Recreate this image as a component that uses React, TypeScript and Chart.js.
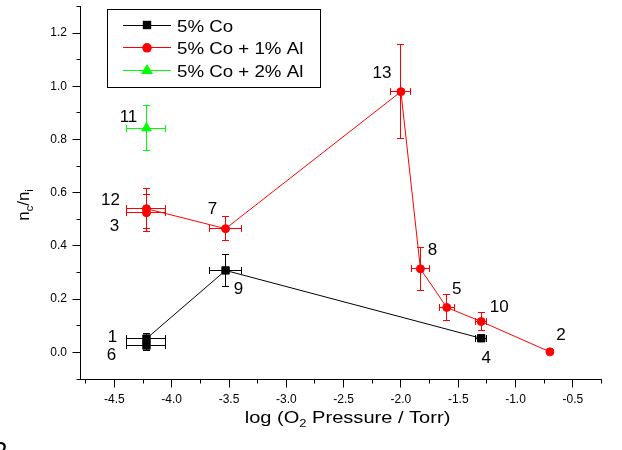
import React, { useEffect, useRef } from 'react';
import { Chart, registerables } from 'chart.js';

Chart.register(...registerables);

// ---- data ----
const seriesNames = ['5% Co', '5% Co + 1% Al', '5% Co + 2% Al'];

const coX = [-4.22, -4.22, -3.53, -1.3];
const coY = [0.026, 0.052, 0.308, 0.053];
const coXErr = [0.17, 0.17, 0.14, 0.05];
const coYErr = [0.018, 0.018, 0.059, 0.01];
const coLabels = ['6', '1', '9', '4'];

const al1X = [-4.22, -4.22, -3.53, -2.0, -1.83, -1.6, -1.3, -0.7];
const al1Y = [0.525, 0.54, 0.465, 0.98, 0.314, 0.169, 0.116, 0.002];
const al1XErr = [0.17, 0.17, 0.14, 0.087, 0.075, 0.065, 0.046, 0.02];
const al1YErr = [0.07, 0.075, 0.045, 0.176, 0.08, 0.05, 0.034, 0];
const al1Labels = ['3', '12', '7', '13', '8', '5', '10', '2'];

const al2X = [-4.22];
const al2Y = [0.843];
const al2XErr = [0.17];
const al2YErr = [0.085];
const al2Labels = ['11'];

const xTicks = [-4.5, -4.0, -3.5, -3.0, -2.5, -2.0, -1.5, -1.0, -0.5];
const xMinorTicks = [-4.75, -4.25, -3.75, -3.25, -2.75, -2.25, -1.75, -1.25, -0.75, -0.25];
const yTicks = [0.0, 0.2, 0.4, 0.6, 0.8, 1.0, 1.2];
const yMinorTicks = [-0.1, 0.1, 0.3, 0.5, 0.7, 0.9, 1.1, 1.3];

// ---- label placement (pixel offsets from each point) ----
const coLabelOffsets = [[-35, 10], [-34, -1], [13, 19], [5, 20]];
const al1LabelOffsets = [[-32, 14], [-36, -8], [-13, -19], [-19, -18], [12, -19], [10, -18], [18, -14], [11, -17]];
const al2LabelOffsets = [[-18, -11]];

const FONT = '"Liberation Sans", Arial, Helvetica, sans-serif';
const RED = '#ff0000';
const GREEN = '#00ff00';
const BLACK = '#000000';

function buildPoints(xs: number[], ys: number[], xe: number[], ye: number[]) {
  return xs.map((x, i) => ({ x, y: ys[i], xErr: xe[i], yErr: ye[i] }));
}

const crisp = (v: number) => Math.round(v - 0.5) + 0.5;

const errorBarPlugin = {
  id: 'errorBars',
  beforeDatasetsDraw(chart: any) {
    const { ctx } = chart;
    const xs = chart.scales.x;
    const ys = chart.scales.y;
    const cap = 3.5;
    chart.data.datasets.forEach((ds: any) => {
      ctx.save();
      ctx.strokeStyle = ds.borderColor;
      ctx.lineWidth = 1;
      ds.data.forEach((p: any) => {
        const px = xs.getPixelForValue(p.x);
        const py = ys.getPixelForValue(p.y);
        ctx.beginPath();
        if (p.xErr > 0) {
          const l = crisp(xs.getPixelForValue(p.x - p.xErr));
          const r = crisp(xs.getPixelForValue(p.x + p.xErr));
          const cy = crisp(py);
          ctx.moveTo(l, cy); ctx.lineTo(r, cy);
          ctx.moveTo(l, cy - cap); ctx.lineTo(l, cy + cap);
          ctx.moveTo(r, cy - cap); ctx.lineTo(r, cy + cap);
        }
        if (p.yErr > 0) {
          const t = crisp(ys.getPixelForValue(p.y + p.yErr));
          const b = crisp(ys.getPixelForValue(p.y - p.yErr));
          const cx = crisp(px);
          ctx.moveTo(cx, t); ctx.lineTo(cx, b);
          ctx.moveTo(cx - cap, t); ctx.lineTo(cx + cap, t);
          ctx.moveTo(cx - cap, b); ctx.lineTo(cx + cap, b);
        }
        ctx.stroke();
      });
      ctx.restore();
    });
  },
};

function drawMarker(ctx: CanvasRenderingContext2D, style: string, x: number, y: number, color: string) {
  ctx.save();
  ctx.fillStyle = color;
  ctx.beginPath();
  if (style === 'rect') {
    ctx.rect(x - 4.2, y - 4.2, 8.4, 8.4);
  } else if (style === 'circle') {
    ctx.arc(x, y, 4.8, 0, Math.PI * 2);
  } else {
    ctx.moveTo(x, y - 6.5);
    ctx.lineTo(x + 6, y + 3.5);
    ctx.lineTo(x - 6, y + 3.5);
    ctx.closePath();
  }
  ctx.fill();
  ctx.restore();
}

function drawParts(ctx: CanvasRenderingContext2D, parts: { t: string; sub: boolean }[], size: number, subSize: number, subShift: number, sx: number) {
  const widths = parts.map((p) => {
    ctx.font = `${p.sub ? subSize : size}px ${FONT}`;
    return ctx.measureText(p.t).width * sx;
  });
  const total = widths.reduce((a, b) => a + b, 0);
  let cx = -total / 2;
  parts.forEach((p, i) => {
    ctx.font = `${p.sub ? subSize : size}px ${FONT}`;
    ctx.save();
    ctx.translate(cx, p.sub ? subShift : 0);
    ctx.scale(sx, 1);
    ctx.textAlign = 'left';
    ctx.textBaseline = 'alphabetic';
    ctx.fillText(p.t, 0, 0);
    ctx.restore();
    cx += widths[i];
  });
}

const decorPlugin = {
  id: 'decor',
  afterDraw(chart: any) {
    const { ctx, chartArea } = chart;
    const xs = chart.scales.x;
    const ys = chart.scales.y;
    ctx.save();
    ctx.strokeStyle = BLACK;
    ctx.lineWidth = 1;
    ctx.beginPath();
    const bottom = crisp(chartArea.bottom);
    const left = crisp(chartArea.left);
    xTicks.forEach((v) => { const p = crisp(xs.getPixelForValue(v)); ctx.moveTo(p, bottom); ctx.lineTo(p, bottom + 8); });
    xMinorTicks.forEach((v) => { const p = crisp(xs.getPixelForValue(v)); ctx.moveTo(p, bottom); ctx.lineTo(p, bottom + 4); });
    yTicks.forEach((v) => { const p = crisp(ys.getPixelForValue(v)); ctx.moveTo(left, p); ctx.lineTo(left - 8, p); });
    yMinorTicks.forEach((v) => { const p = crisp(ys.getPixelForValue(v)); ctx.moveTo(left, p); ctx.lineTo(left - 4, p); });
    ctx.stroke();

    // point labels
    ctx.fillStyle = BLACK;
    ctx.font = `17px ${FONT}`;
    ctx.textAlign = 'center';
    ctx.textBaseline = 'middle';
    chart.data.datasets.forEach((ds: any) => {
      ds.data.forEach((p: any, i: number) => {
        const px = xs.getPixelForValue(p.x);
        const py = ys.getPixelForValue(p.y);
        const off = ds.labelOffsets[i];
        ctx.fillText(ds.pointLabels[i], px + off[0], py + off[1]);
      });
    });

    // legend
    const lx = 107.5, ly = 9.5, lw = 213, lh = 78;
    ctx.fillStyle = '#ffffff';
    ctx.fillRect(lx, ly, lw, lh);
    ctx.strokeStyle = BLACK;
    ctx.strokeRect(lx, ly, lw, lh);
    chart.data.datasets.forEach((ds: any, i: number) => {
      const ry = 25 + i * 22.8;
      ctx.strokeStyle = ds.borderColor;
      ctx.beginPath();
      ctx.moveTo(123, crisp(ry));
      ctx.lineTo(171, crisp(ry));
      ctx.stroke();
      drawMarker(ctx, ds.pointStyle, 147, ry, ds.backgroundColor);
      ctx.fillStyle = BLACK;
      ctx.save();
      ctx.translate(177, ry + 6.5);
      ctx.scale(1.1, 1);
      ctx.font = `17px ${FONT}`;
      ctx.textAlign = 'left';
      ctx.textBaseline = 'alphabetic';
      ctx.fillText(ds.label, 0, 0);
      ctx.restore();
    });

    // axis titles
    ctx.fillStyle = BLACK;
    ctx.save();
    ctx.translate(347.5, 423);
    drawParts(ctx, [
      { t: 'log (O', sub: false },
      { t: '2', sub: true },
      { t: ' Pressure / Torr)', sub: false },
    ], 17, 11, 4, 1.18);
    ctx.restore();

    ctx.save();
    ctx.translate(28.5, 205);
    ctx.rotate(-Math.PI / 2);
    drawParts(ctx, [
      { t: 'n', sub: false },
      { t: 'c', sub: true },
      { t: '/n', sub: false },
      { t: 'i', sub: true },
    ], 17, 11, 4, 1.0);
    ctx.restore();

    // cut-off figure mark at the bottom-left corner
    ctx.font = `26px ${FONT}`;
    ctx.textAlign = 'left';
    ctx.textBaseline = 'alphabetic';
    ctx.fillText('2', -7, 460);
    ctx.restore();
  },
};

export default function App() {
  const canvasRef = useRef<HTMLCanvasElement | null>(null);

  useEffect(() => {
    const canvas = canvasRef.current;
    if (!canvas) return;
    const chart = new Chart(canvas, {
      type: 'scatter',
      data: {
        datasets: [
          {
            label: seriesNames[0],
            data: buildPoints(coX, coY, coXErr, coYErr),
            borderColor: BLACK,
            backgroundColor: BLACK,
            pointBackgroundColor: BLACK,
            pointBorderColor: BLACK,
            pointStyle: 'rect',
            pointRadius: 5.2,
            pointBorderWidth: 1,
            borderWidth: 1,
            showLine: true,
            pointLabels: coLabels,
            labelOffsets: coLabelOffsets,
          } as any,
          {
            label: seriesNames[1],
            data: buildPoints(al1X, al1Y, al1XErr, al1YErr),
            borderColor: RED,
            backgroundColor: RED,
            pointBackgroundColor: RED,
            pointBorderColor: RED,
            pointStyle: 'circle',
            pointRadius: 4,
            pointBorderWidth: 1,
            borderWidth: 1,
            showLine: true,
            pointLabels: al1Labels,
            labelOffsets: al1LabelOffsets,
          } as any,
          {
            label: seriesNames[2],
            data: buildPoints(al2X, al2Y, al2XErr, al2YErr),
            borderColor: GREEN,
            backgroundColor: GREEN,
            pointBackgroundColor: GREEN,
            pointBorderColor: GREEN,
            pointStyle: 'triangle',
            pointRadius: 5.5,
            pointBorderWidth: 1,
            borderWidth: 1,
            showLine: true,
            pointLabels: al2Labels,
            labelOffsets: al2LabelOffsets,
          } as any,
        ],
      },
      options: {
        responsive: false,
        animation: false,
        events: [],
        layout: { padding: { top: 3, right: 20.5, left: 0, bottom: 0 } },
        plugins: {
          legend: { display: false },
          tooltip: { enabled: false },
        },
        scales: {
          x: {
            type: 'linear',
            min: -4.8,
            max: -0.25,
            afterBuildTicks: (s: any) => { s.ticks = xTicks.map((v) => ({ value: v })); },
            afterFit: (s: any) => { s.height = 71; s.paddingLeft = 0; s.paddingRight = 0; },
            grid: { display: false, drawTicks: false },
            border: { display: true, color: BLACK, width: 1 },
            ticks: {
              color: BLACK,
              padding: 13,
              maxRotation: 0,
              autoSkip: false,
              font: { family: FONT, size: 12 },
              callback: (v: any) => Number(v).toFixed(1),
            },
          },
          y: {
            type: 'linear',
            min: -0.1,
            max: 1.3,
            afterBuildTicks: (s: any) => { s.ticks = yTicks.map((v) => ({ value: v })); },
            afterFit: (s: any) => { s.width = 80; s.paddingTop = 0; s.paddingBottom = 0; },
            grid: { display: false, drawTicks: false },
            border: { display: true, color: BLACK, width: 1 },
            ticks: {
              color: BLACK,
              padding: 13,
              autoSkip: false,
              font: { family: FONT, size: 12 },
              callback: (v: any) => Number(v).toFixed(1),
            },
          },
        },
      },
      plugins: [errorBarPlugin, decorPlugin],
    });
    return () => chart.destroy();
  }, []);

  return (
    <div style={{ position: 'fixed', left: 0, top: 0, width: 622, height: 450, background: '#fff' }}>
      <canvas ref={canvasRef} width={622} height={450} style={{ display: 'block' }} />
    </div>
  );
}
